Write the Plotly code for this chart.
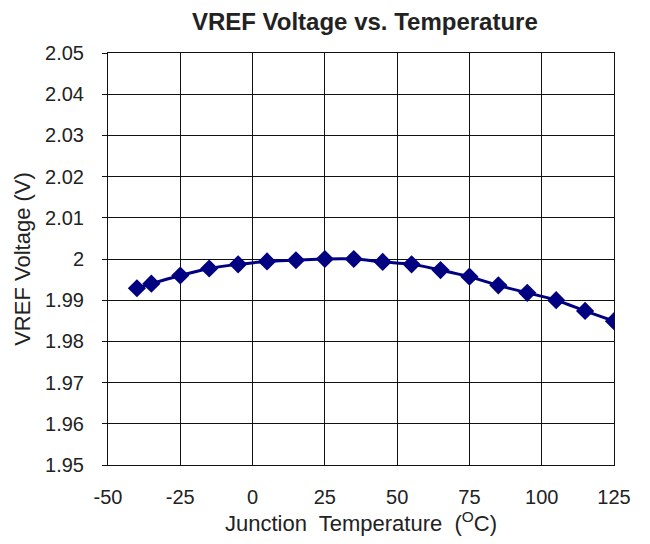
import plotly.graph_objects as go

temperature = [-40, -35, -25, -15, -5, 5, 15, 25, 35, 45, 55, 65, 75, 85, 95, 105, 115, 125]
vref = [1.9929, 1.9940, 1.9960, 1.9977, 1.9987, 1.9994, 1.9997, 2.0000, 2.0000,
        1.9993, 1.9987, 1.9973, 1.9957, 1.9936, 1.9918, 1.9900, 1.9874, 1.9849]

x_ticks = [-50, -25, 0, 25, 50, 75, 100, 125]
x_ticktext = ['-50', '-25', '0', '25', '50', '75', '100', '125']
y_ticks = [2.05, 2.04, 2.03, 2.02, 2.01, 2.0, 1.99, 1.98, 1.97, 1.96, 1.95]
y_ticktext = ['2.05', '2.04', '2.03', '2.02', '2.01', '2', '1.99', '1.98', '1.97', '1.96', '1.95']

font = 'Liberation Sans, Arial, sans-serif'

fig = go.Figure(
    data=[
        go.Scatter(x=temperature, y=vref, mode='lines+markers',
                   line={'color': '#000080', 'width': 3, 'shape': 'spline'},
                   marker={'symbol': 'diamond', 'size': 14, 'color': '#000080'})
    ],
    layout=go.Layout(
        width=650, height=544,
        paper_bgcolor='white', plot_bgcolor='white',
        margin={'l': 100, 'r': 44, 't': 45, 'b': 87},
        showlegend=False,
        title={'text': '<b>VREF Voltage vs. Temperature</b>', 'x': 0.549, 'xanchor': 'center',
               'y': 0.975, 'yanchor': 'middle',
               'font': {'family': font, 'size': 24, 'color': '#222222'}},
        xaxis={'range': [-50, 125], 'tickvals': x_ticks, 'ticktext': x_ticktext,
               'showgrid': True, 'gridcolor': '#111111', 'gridwidth': 1,
               'showline': True, 'linecolor': '#111111', 'linewidth': 1, 'mirror': True,
               'zeroline': False, 'ticks': '', 'ticklabelstandoff': 14,
               'tickfont': {'family': font, 'size': 20, 'color': '#222222'},
               'title': {'text': 'Junction  Temperature  (<sup>O</sup>C)',
                         'font': {'family': font, 'size': 22, 'color': '#222222'},
                         'standoff': 5}},
        yaxis={'range': [1.95, 2.05], 'tickvals': y_ticks, 'ticktext': y_ticktext,
               'showgrid': True, 'gridcolor': '#111111', 'gridwidth': 1,
               'showline': True, 'linecolor': '#111111', 'linewidth': 1, 'mirror': True,
               'zeroline': False, 'ticks': 'outside', 'ticklen': 5, 'tickcolor': '#111111',
               'ticklabelstandoff': 14,
               'tickfont': {'family': font, 'size': 20, 'color': '#222222'},
               'title': {'text': 'VREF Voltage (V)',
                         'font': {'family': font, 'size': 22, 'color': '#222222'},
                         'standoff': 8}},
    )
)

fig.write_html('out.html')
